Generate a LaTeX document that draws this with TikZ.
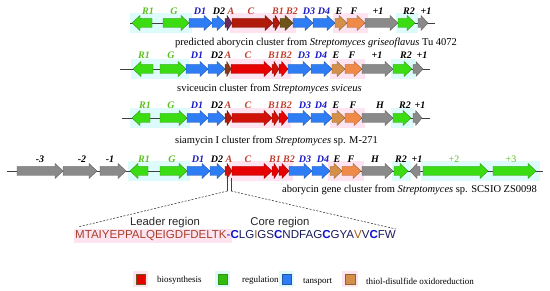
\documentclass[tikz,border=0pt]{standalone}
\usepackage{fontspec}
\setmainfont{Liberation Serif}
\newfontfamily\seqfont{Liberation Sans}
\definecolor{gA}{HTML}{3CDC12}
\definecolor{bA}{HTML}{2F7DF4}
\definecolor{rA}{HTML}{E60000}
\definecolor{dRed}{HTML}{B01A0A}
\definecolor{mRed}{HTML}{D01208}
\definecolor{olv}{HTML}{6E5418}
\definecolor{tanA}{HTML}{D4904A}
\definecolor{orA}{HTML}{F08A48}
\definecolor{gyA}{HTML}{8A8A8A}
\definecolor{aPur}{HTML}{6B2A5A}
\definecolor{aBrn}{HTML}{8A3A10}
\definecolor{gLab}{HTML}{5CC020}
\definecolor{bLab}{HTML}{1A1AC8}
\definecolor{rLab}{HTML}{C0402E}
\definecolor{hcy}{HTML}{DDFBFB}
\definecolor{hpk}{HTML}{FDE4F0}
\definecolor{lead}{HTML}{A8402A}
\definecolor{navy}{HTML}{1C1C5C}
\definecolor{cbl}{HTML}{1010D0}
\definecolor{brw}{HTML}{A05A10}
\definecolor{lineC}{HTML}{404040}
\newcommand{\gR}[4]{%
 \pgfmathsetmacro{\ghl}{min(8,0.7*(#2-(#1)))}%
 \pgfmathsetmacro{\ghx}{#2-\ghl}%
 \filldraw[fill=#4,draw=#4!65!black,line width=0.35pt] (#1,#3-4.5) -- (\ghx,#3-4.5) -- (\ghx,#3-7.5) -- (#2,#3) -- (\ghx,#3+7.5) -- (\ghx,#3+4.5) -- (#1,#3+4.5) -- cycle;}
\newcommand{\gL}[4]{%
 \pgfmathsetmacro{\ghl}{min(8,0.7*(#2-(#1)))}%
 \pgfmathsetmacro{\ghx}{#1+\ghl}%
 \filldraw[fill=#4,draw=#4!65!black,line width=0.35pt] (#2,#3-4.5) -- (\ghx,#3-4.5) -- (\ghx,#3-7.5) -- (#1,#3) -- (\ghx,#3+7.5) -- (\ghx,#3+4.5) -- (#2,#3+4.5) -- cycle;}
\newcommand{\hC}[3]{\fill[hcy] (#1-2.5,#3-10) rectangle (#2+2.5,#3+10);}
\newcommand{\hP}[3]{\fill[hpk] (#1-2.5,#3-10) rectangle (#2+2.5,#3+10);}
\tikzset{
 lab/.style={font=\fontsize{10}{11}\selectfont\bfseries\itshape,inner sep=0pt},
 captxt/.style={font=\fontsize{10.5}{12}\selectfont,inner sep=0pt,anchor=west},
 leg/.style={font=\fontsize{9}{11}\selectfont,inner sep=0pt,anchor=west},
 genome/.style={draw=lineC,line width=0.6pt},
 dsh/.style={draw=lineC,line width=0.6pt,dash pattern=on 2pt off 1.5pt},
 sq/.style={line width=0.5pt}
}
\begin{document}
\begin{tikzpicture}[x=1pt,y=-1pt]
\useasboundingbox (0,0) rectangle (550,291);
\fill[white] (0,0) rectangle (550,291);
% ---------- halos ----------
\hC{132}{189}{23}\hP{232}{293}{23}\hP{335}{365}{23}\hC{398}{415}{23}
\hC{133}{186}{69}\hP{231}{288}{69}\hP{332}{362}{69}\hC{393}{412}{69}
\hC{132}{187}{118}\hP{232}{288}{118}\hP{332}{362}{118}\hC{393}{411}{118}
\hC{130}{187}{171}\hP{231}{290}{171}\hP{330}{361}{171}\hC{394}{408}{171}\hC{423}{537}{171}
% ---------- genome lines ----------
\coordinate (l1a) at (130,23); \coordinate (l1b) at (435,23);
\coordinate (l2a) at (120,69); \coordinate (l2b) at (430,69);
\coordinate (l3a) at (122,118); \coordinate (l3b) at (430,118);
\coordinate (l4a) at (7,171); \coordinate (l4b) at (543,171);
\draw[genome] (l1a) -- (l1b);
\draw[genome] (l2a) -- (l2b);
\draw[genome] (l3a) -- (l3b);
\draw[genome] (l4a) -- (l4b);
% ---------- row 1 ----------
\gL{132}{152}{23}{gA}
\gR{163}{189}{23}{gA}
\gR{189}{212}{23}{bA}
\gR{212}{225}{23}{bA}
\gR{225}{232}{23}{aPur}
\gR{232}{273}{23}{dRed}
\gR{273}{280}{23}{dRed}
\gR{280}{293}{23}{olv}
\gR{293}{313}{23}{bA}
\gR{313}{335}{23}{bA}
\gR{335}{347}{23}{tanA}
\gR{347}{365}{23}{orA}
\gR{365}{398}{23}{gyA}
\gR{398}{415}{23}{gA}
\gR{418}{428}{23}{gyA}
\node[lab,text=gLab] (a1) at (148,11) {R1};
\node[lab,text=gLab] (a2) at (174,11) {G};
\node[lab,text=bLab] (a3) at (200,11) {D1};
\node[lab] (a4) at (219,11) {D2};
\node[lab,text=rLab] (a5) at (231,11) {A};
\node[lab,text=rLab] (a6) at (251,11) {C};
\node[lab,text=rLab] (a7) at (278,11) {B1};
\node[lab,text=rLab] (a8) at (292,11) {B2};
\node[lab,text=bLab] (a9) at (309,11) {D3};
\node[lab,text=bLab] (a10) at (324,11) {D4};
\node[lab] (a11) at (339,11) {E};
\node[lab] (a12) at (354,11) {F};
\node[lab] (a13) at (378,11) {+1};
\node[lab] (a14) at (409,11) {R2};
\node[lab] (a15) at (426,11) {+1};
\node[captxt] (cap1) at (175,43) {predicted aborycin cluster from \textit{Streptomyces griseoflavus} Tu 4072};
% ---------- row 2 ----------
\gL{133}{153}{69}{gA}
\gR{160}{186}{69}{gA}
\gR{186}{208}{69}{bA}
\gR{208}{225}{69}{bA}
\gR{225}{231}{69}{aBrn}
\gR{231}{272}{69}{rA}
\gR{272}{279}{69}{mRed}
\gR{279}{288}{69}{rA}
\gR{288}{311}{69}{bA}
\gR{311}{332}{69}{bA}
\gR{332}{345}{69}{tanA}
\gR{345}{362}{69}{orA}
\gR{362}{393}{69}{gyA}
\gR{393}{412}{69}{gA}
\gR{413}{423}{69}{gyA}
\node[lab,text=gLab] (b1) at (144,55) {R1};
\node[lab,text=gLab] (b2) at (171,55) {G};
\node[lab,text=bLab] (b3) at (197,55) {D1};
\node[lab] (b4) at (217,55) {D2};
\node[lab,text=rLab] (b5) at (228,55) {A};
\node[lab,text=rLab] (b6) at (248,55) {C};
\node[lab,text=rLab] (b7) at (274,55) {B1};
\node[lab,text=rLab] (b8) at (286,55) {B2};
\node[lab,text=bLab] (b9) at (304,55) {D3};
\node[lab,text=bLab] (b10) at (321,55) {D4};
\node[lab] (b11) at (336,55) {E};
\node[lab] (b12) at (352,55) {F};
\node[lab] (b13) at (377,55) {+1};
\node[lab] (b14) at (406,55) {R2};
\node[lab] (b15) at (422,55) {+1};
\node[captxt] (cap2) at (177,89) {sviceucin cluster from \textit{Streptomyces sviceus}};
% ---------- row 3 ----------
\gL{132}{150}{118}{gA}
\gR{160}{187}{118}{gA}
\gR{187}{208}{118}{bA}
\gR{208}{225}{118}{bA}
\gR{225}{232}{118}{dRed}
\gR{232}{272}{118}{mRed}
\gR{272}{279}{118}{mRed}
\gR{279}{288}{118}{rA}
\gR{288}{311}{118}{bA}
\gR{311}{332}{118}{bA}
\gR{332}{345}{118}{tanA}
\gR{345}{362}{118}{orA}
\gR{362}{393}{118}{gyA}
\gR{393}{411}{118}{gA}
\gR{413}{422}{118}{gyA}
\node[lab,text=gLab] (c1) at (145,105) {R1};
\node[lab,text=gLab] (c2) at (171,105) {G};
\node[lab,text=bLab] (c3) at (197,105) {D1};
\node[lab] (c4) at (217,105) {D2};
\node[lab,text=rLab] (c5) at (228,105) {A};
\node[lab,text=rLab] (c6) at (248,105) {C};
\node[lab,text=rLab] (c7) at (274,105) {B1};
\node[lab,text=rLab] (c8) at (286,105) {B2};
\node[lab,text=bLab] (c9) at (305,105) {D3};
\node[lab,text=bLab] (c10) at (321,105) {D4};
\node[lab] (c11) at (336,105) {E};
\node[lab] (c12) at (353,105) {F};
\node[lab] (c13) at (380,105) {H};
\node[lab] (c14) at (405,105) {R2};
\node[lab] (c15) at (420,105) {+1};
\node[captxt] (cap3) at (175,141) {siamycin I cluster from \textit{Streptomyces} sp. M-271};
% ---------- row 4 ----------
\gR{17}{63}{171}{gyA}
\gR{63}{97}{171}{gyA}
\gR{100}{126}{171}{gyA}
\gL{130}{148}{171}{gA}
\gR{160}{187}{171}{gA}
\gR{187}{210}{171}{bA}
\gR{210}{225}{171}{bA}
\gR{225}{232}{171}{mRed}
\gR{232}{272}{171}{rA}
\gR{272}{279}{171}{rA}
\gR{279}{289}{171}{rA}
\gR{289}{312}{171}{bA}
\gR{312}{330}{171}{bA}
\gR{330}{342}{171}{tanA}
\gR{342}{361}{171}{orA}
\gR{362}{393}{171}{gyA}
\gR{394}{408}{171}{gA}
\gL{410}{420}{171}{gyA}
\gR{423}{488}{171}{gA}
\gR{493}{536}{171}{gA}
\node[lab] (d1) at (40,159) {-3};
\node[lab] (d2) at (82,159) {-2};
\node[lab] (d3) at (110,159) {-1};
\node[lab,text=gLab] (d4) at (144,159) {R1};
\node[lab,text=gLab] (d5) at (172,159) {G};
\node[lab,text=bLab] (d6) at (198,159) {D1};
\node[lab] (d7) at (217,159) {D2};
\node[lab,text=rLab] (d8) at (229,159) {A};
\node[lab,text=rLab] (d9) at (248,159) {C};
\node[lab,text=rLab] (d10) at (275,159) {B1};
\node[lab,text=rLab] (d11) at (289,159) {B2};
\node[lab,text=bLab] (d12) at (305,159) {D3};
\node[lab,text=bLab] (d13) at (323,159) {D4};
\node[lab] (d14) at (337,159) {E};
\node[lab] (d15) at (351,159) {F};
\node[lab] (d16) at (375,159) {H};
\node[lab] (d17) at (401,159) {R2};
\node[lab] (d18) at (417,159) {+1};
\node[font=\fontsize{10}{11}\selectfont,inner sep=0pt,text=gLab] (d19) at (454,159) {+2};
\node[font=\fontsize{10}{11}\selectfont,inner sep=0pt,text=gLab] (d20) at (511,159) {+3};
\node[captxt] (cap4) at (282,190) {aborycin gene cluster from \textit{Streptomyces} sp. SCSIO ZS0098};
% ---------- zoom lines ----------
\coordinate (tLa) at (227.5,178); \coordinate (tLb) at (227.5,191);
\coordinate (tRa) at (231,178); \coordinate (tRb) at (231,191);
\coordinate (zL) at (78,227); \coordinate (zR) at (396,229);
\draw[genome,line width=0.5pt] (tLa) -- (tLb);
\draw[genome,line width=0.5pt] (tRa) -- (tRb);
\draw[dsh] (tLb) -- (zL);
\draw[dsh] (tRb) -- (zR);
% ---------- sequence ----------
\node[font=\seqfont\fontsize{11.3}{13}\selectfont,inner sep=0pt,text=black!85] (leadr) at (165,223) {Leader region};
\node[font=\seqfont\fontsize{11.3}{13}\selectfont,inner sep=0pt,text=black!85] (corer) at (280,223) {Core region};
\fill[hpk] (74,229) rectangle (232,243);
\node[font=\seqfont\fontsize{11.55}{13}\selectfont,inner sep=0pt,anchor=west] (seq) at (75,236) {\textcolor{lead}{MTAIYEPPALQEIGDFDELTK}\textcolor{cbl}{-}\textcolor{cbl}{\bfseries C}\textcolor{navy}{LG}\textcolor{brw}{I}\textcolor{navy}{GS}\textcolor{cbl}{\bfseries C}\textcolor{navy}{NDFAG}\textcolor{cbl}{\bfseries C}\textcolor{navy}{GYA}\textcolor{brw}{V}\textcolor{navy}{V}\textcolor{cbl}{\bfseries C}\textcolor{navy}{FW}};
% ---------- legend ----------
\fill[hpk] (133,271) rectangle (148,287);
\fill[hcy] (215,271) rectangle (230,287);
\fill[hcy] (279,271) rectangle (294,287);
\fill[hpk] (342,271) rectangle (358,287);
\filldraw[sq,fill=rA,draw=olv] (136,274) rectangle (145,284);
\filldraw[sq,fill=gA!85!black,draw=gA!70!black] (218,274) rectangle (227,284);
\filldraw[sq,fill=bA,draw=bA!70!black] (282,274) rectangle (291,284);
\filldraw[sq,fill=tanA,draw=olv!70!tanA] (345,274) rectangle (355,284);
\node[leg] (lg1) at (157,280) {biosynthesis};
\node[leg] (lg2) at (242,280) {regulation};
\node[leg] (lg3) at (303,281.5) {tansport};
\node[leg] (lg4) at (366,281.5) {thiol-disulfide oxidoreduction};
\end{tikzpicture}
\end{document}
